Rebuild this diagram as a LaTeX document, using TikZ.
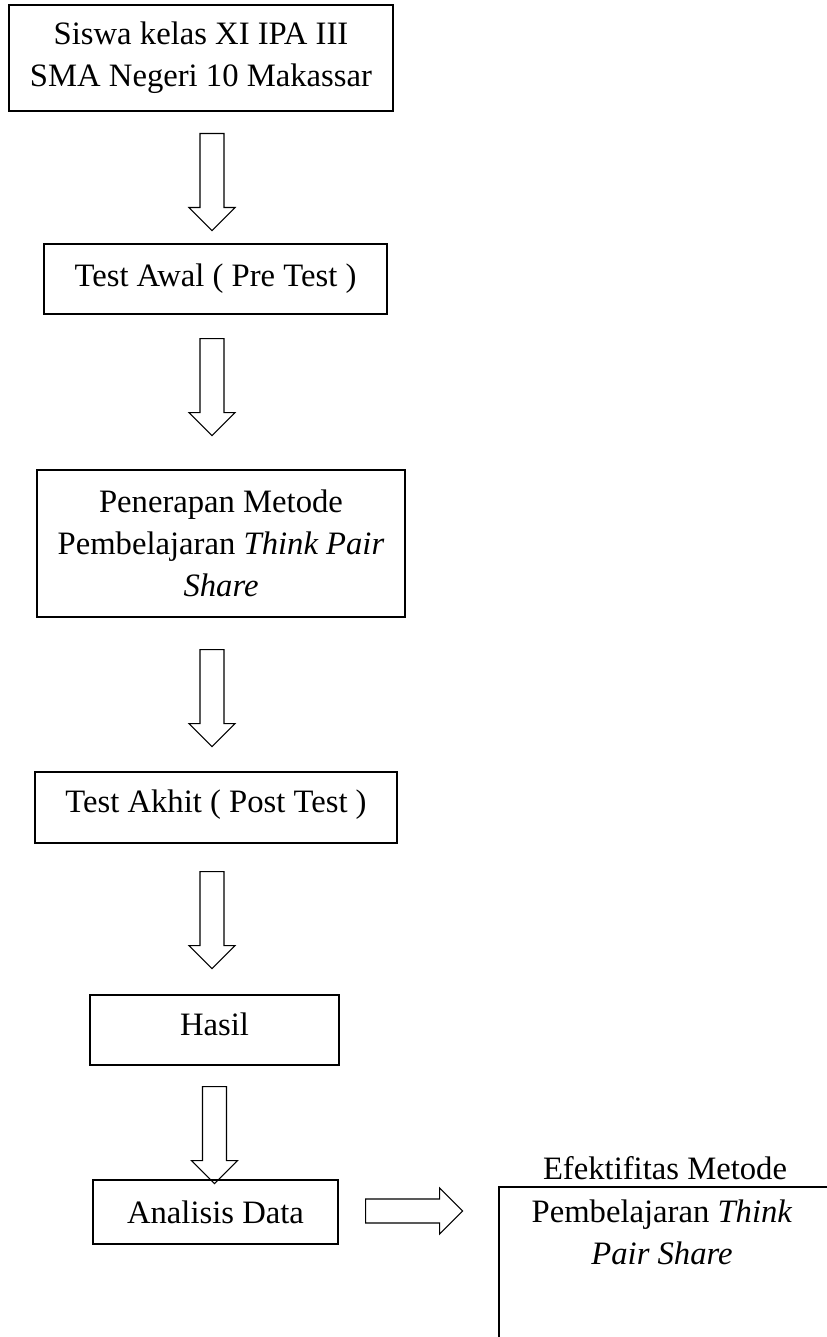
\documentclass[tikz,border=0pt]{standalone}
\usepackage{fontspec}
\setmainfont{Liberation Serif}
\usetikzlibrary{shapes.arrows}

\begin{document}
\begin{tikzpicture}[
  x=0.75pt, y=-0.75pt,
  font=\fontsize{24.5}{31.5}\selectfont,
  box/.style={draw, line width=.9pt, inner sep=0pt, align=center},
  barrow/.style={single arrow, draw, line width=.8pt, inner xsep=0pt, inner ysep=8.6pt,
                 minimum height=72.75pt, single arrow head extend=8.25pt,
                 single arrow head indent=0pt, anchor=tail},
]
\useasboundingbox (0,0) rectangle (827,1337);

% main column
\node[box, minimum width=288pt, minimum height=79.5pt] (siswa) at (201,58)
  {Siswa kelas XI IPA III\\SMA Negeri 10 Makassar};
\node[box, minimum width=257.25pt, minimum height=52.5pt] (pretest) at (215.5,279)
  {Test Awal ( Pre Test )};
\node[box, minimum width=276pt, minimum height=110.25pt] (tps) at (221,543.5)
  {Penerapan Metode\\Pembelajaran \textit{Think Pair}\\\textit{Share}};
\node[box, minimum width=271.5pt, minimum height=53.25pt, text depth=10pt] (posttest) at (216,807.5)
  {Test Akhit ( Post Test )};
\node[box, minimum width=186.75pt, minimum height=52.5pt, text depth=9pt] (hasil) at (214.5,1030)
  {Hasil};
\node[box, minimum width=183.75pt, minimum height=48pt] (analisis) at (215.5,1212)
  {Analisis Data};

% block arrows, placed by their tails
\node[barrow, rotate=-90] (a1) at (212,133) {};
\node[barrow, rotate=-90] (a2) at (212,338) {};
\node[barrow, rotate=-90] (a3) at (212,649) {};
\node[barrow, rotate=-90] (a4) at (212,871) {};
\node[barrow, rotate=-90] (a5) at (214.5,1086) {};
\node[barrow] (a6) at (365,1211) {};

% result, cut at the page edge
\draw[line width=.9pt] (830,1187) -| (499,1340);
\node (efek) at (665,1168) {Efektifitas Metode};
\node[align=center] (efekbody) at (662,1232)
  {Pembelajaran \textit{Think}\\\textit{Pair Share}};
\end{tikzpicture}
\end{document}
